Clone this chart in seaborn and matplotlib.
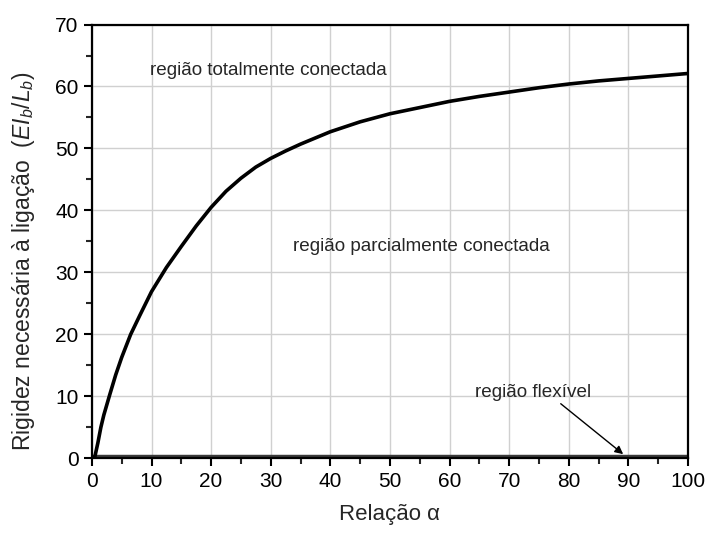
import matplotlib
matplotlib.use("Agg")
import matplotlib.pyplot as plt
import seaborn as sns
import pandas as pd
from matplotlib.ticker import MultipleLocator

# Data
alpha = [0, 0.5, 1.0, 1.5, 2, 3, 4, 5, 6.5, 8, 10, 12.5, 15, 17.5, 20, 22.5, 25, 27.5, 30,
         32.5, 35, 40, 45, 50, 55, 60, 65, 70, 75, 80, 85, 90, 95, 100]
rigidez = [0, 0.3, 2.5, 5.0, 7.0, 10.3, 13.5, 16.3, 20.0, 23.0, 26.9, 30.8, 34.2, 37.5, 40.5,
           43.1, 45.2, 47.0, 48.4, 49.6, 50.7, 52.7, 54.3, 55.6, 56.6, 57.6, 58.4, 59.1, 59.8,
           60.4, 60.9, 61.3, 61.7, 62.1]
flex_x = [0, 100]
flex_y = [0.15, 0.15]

df = pd.DataFrame({"alpha": alpha, "rigidez": rigidez})
df_flex = pd.DataFrame({"alpha": flex_x, "rigidez": flex_y})

sns.set_style("ticks")
plt.rcParams["font.family"] = ["Liberation Sans", "DejaVu Sans"]
plt.rcParams["mathtext.fontset"] = "custom"
plt.rcParams["mathtext.it"] = "Liberation Sans:italic"
plt.rcParams["mathtext.rm"] = "Liberation Sans"

fig = plt.figure(figsize=(7.07, 5.33), dpi=100)
ax = fig.add_axes([0.130, 0.140, 0.843, 0.814])

ax.grid(True, color="#d0d0d0", linewidth=1.0)
ax.set_axisbelow(True)

sns.lineplot(data=df_flex, x="alpha", y="rigidez", ax=ax, color="#3a3a3a", linewidth=3.2)
sns.lineplot(data=df, x="alpha", y="rigidez", ax=ax, color="black", linewidth=2.6)

ax.set_xlim(0, 100)
ax.set_ylim(0, 70)
ax.xaxis.set_major_locator(MultipleLocator(10))
ax.xaxis.set_minor_locator(MultipleLocator(5))
ax.yaxis.set_major_locator(MultipleLocator(10))
ax.yaxis.set_minor_locator(MultipleLocator(5))
ax.tick_params(axis="both", which="major", direction="out", length=6, width=1.5,
               labelsize=15, colors="black")
ax.tick_params(axis="both", which="minor", direction="out", length=4, width=1.5)
for s in ax.spines.values():
    s.set_linewidth(1.6)
    s.set_color("black")
    s.set_visible(True)

ax.set_xlabel("Relação α", fontsize=16, labelpad=10)
ax.set_ylabel("Rigidez necessária à ligação  ($EI_b$/$L_b$)", fontsize=16.5)
ax.yaxis.set_label_coords(-0.092, 0.455)

ax.text(9.7, 62.6, "região totalmente conectada", fontsize=13.6, va="center", ha="left")
ax.text(33.7, 34.2, "região parcialmente conectada", fontsize=13.6, va="center", ha="left")
ax.text(64.3, 10.6, "região flexível", fontsize=13.6, va="center", ha="left")
ax.annotate("", xy=(89.5, 0.4), xytext=(78.3, 9.1),
            arrowprops=dict(arrowstyle="-|>", color="black", lw=1.0, mutation_scale=12))

fig.savefig("out.png", dpi=100)
